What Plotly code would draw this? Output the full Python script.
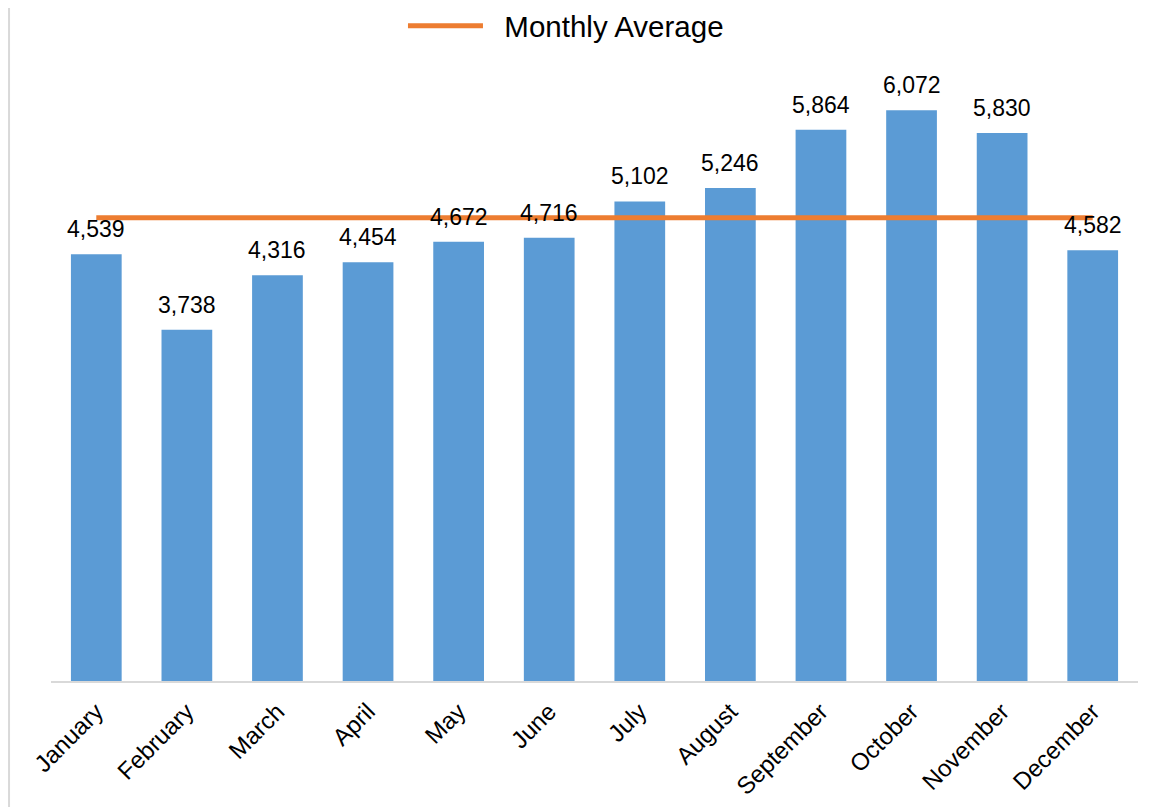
import plotly.graph_objects as go

months = ["January", "February", "March", "April", "May", "June", "July",
          "August", "September", "October", "November", "December"]
sales = [4539, 3738, 4316, 4454, 4672, 4716, 5102, 5246, 5864, 6072, 5830, 4582]
monthly_average = [4928, 4928, 4928, 4928, 4928, 4928, 4928, 4928, 4928, 4928, 4928, 4928]
value_labels = ["4,539", "3,738", "4,316", "4,454", "4,672", "4,716", "5,102",
                "5,246", "5,864", "6,072", "5,830", "4,582"]

FONT = "Liberation Sans, Arial, sans-serif"

fig = go.Figure()
fig.add_trace(go.Bar(
    x=months, y=sales,
    marker=dict(color="#5B9BD5", line=dict(width=0)),
    showlegend=False, hoverinfo="skip",
))
fig.add_trace(go.Scatter(
    x=months, y=monthly_average, mode="lines", name="\u00a0\u00a0Monthly Average",
    line=dict(color="#ED7D31", width=5),
))

annotations = [
    dict(x=m, y=v, text=t, showarrow=False, xref="x", yref="y",
         yanchor="bottom", yshift=10,
         font=dict(size=23, family=FONT, color="#000000"))
    for m, v, t in zip(months, sales, value_labels)
]

fig.update_layout(
    width=1151, height=799,
    margin=dict(l=43, r=21, t=0, b=126, autoexpand=False),
    paper_bgcolor="white", plot_bgcolor="white",
    bargap=0.44,
    font=dict(family=FONT, color="#000000"),
    legend=dict(orientation="h", xref="paper", yref="paper",
                x=0.3238, xanchor="left", y=0.9733, yanchor="middle",
                font=dict(size=29.5, family=FONT, color="#000000"), itemwidth=75,
                bgcolor="rgba(0,0,0,0)"),
    xaxis=dict(showline=True, linecolor="#D9D9D9", linewidth=2, tickangle=-45,
               tickfont=dict(size=24, family=FONT, color="#000000"), ticks="",
               showgrid=False, ticklabelstandoff=5),
    yaxis=dict(range=[0, 7160], showticklabels=False, showgrid=False,
               zeroline=False, showline=False),
    annotations=annotations,
    shapes=[dict(type="line", xref="paper", yref="paper",
                 x0=-0.0386, x1=-0.0386, y0=-0.3, y1=1.1,
                 line=dict(color="#D9D9D9", width=2))],
)

fig.write_html("out.html")
